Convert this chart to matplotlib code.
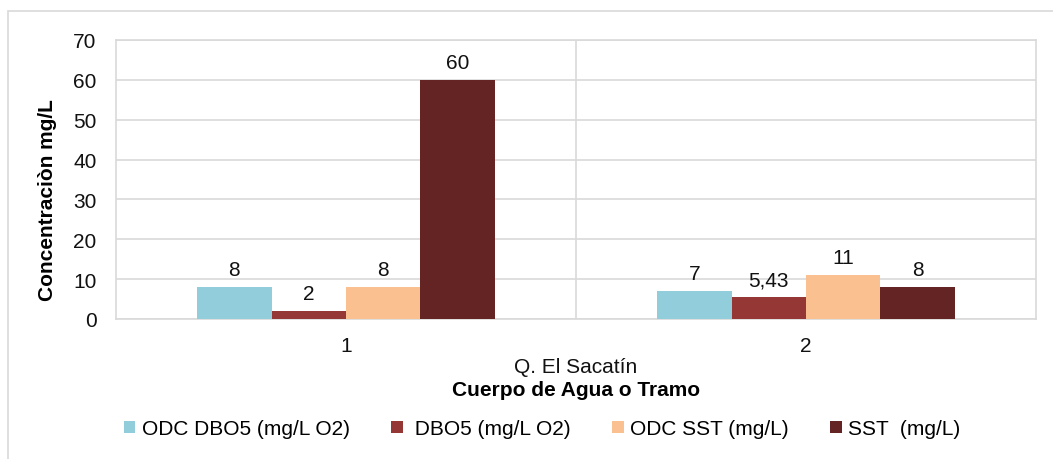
import matplotlib
matplotlib.use("Agg")
import matplotlib.pyplot as plt
import numpy as np
from matplotlib.patches import Rectangle

plt.rcParams['font.family'] = ['Liberation Sans', 'DejaVu Sans']

categories = ['1', '2']
series_names = ['ODC DBO5 (mg/L O2)', ' DBO5 (mg/L O2)', 'ODC SST (mg/L)', 'SST  (mg/L)']
odc_dbo5 = [8, 7]
dbo5 = [2, 5.43]
odc_sst = [8, 11]
sst = [60, 8]
series_values = [odc_dbo5, dbo5, odc_sst, sst]
colors = ['#92CDDC', '#953735', '#FAC090', '#632423']
y_ticks = [0, 10, 20, 30, 40, 50, 60, 70]

FS = 15


def fmt(v):
    return '{:g}'.format(v).replace('.', ',')


fig = plt.figure(figsize=(10.53, 4.6), dpi=100)
ax = fig.add_axes([116 / 1053, 1 - 320 / 460, 920 / 1053, 279 / 460])

# outer chart frame (only top/left visible in the reference)
fig.add_artist(Rectangle((8 / 1053, -0.1), 1.2, 1 - 12 / 460 + 0.1,
                         transform=fig.transFigure, fill=False,
                         edgecolor='#D9D9D9', linewidth=1.2))

x = np.arange(len(categories))
width = 0.1617
for i, (vals, name, col) in enumerate(zip(series_values, series_names, colors)):
    bars = ax.bar(x + (i - 1.5) * width, vals, width, color=col, label=name, zorder=3)
    for b, v in zip(bars, vals):
        ax.annotate(fmt(v), (b.get_x() + b.get_width() / 2, b.get_height()),
                    xytext=(0, 6), textcoords='offset points',
                    ha='center', va='bottom', fontsize=FS, color='#111111')

ax.set_xlim(-0.5, 1.5)
ax.set_ylim(0, 70)
ax.set_yticks(y_ticks)
ax.set_xticks(x)
ax.set_xticklabels(categories)
ax.set_xticks([0.5], minor=True)
ax.grid(axis='y', color='#D9D9D9', linewidth=1.2, zorder=0)
ax.grid(axis='x', which='minor', color='#D9D9D9', linewidth=1.2, zorder=0)
ax.tick_params(axis='both', which='both', length=0, labelsize=FS, colors='#111111')
ax.tick_params(axis='x', pad=12)
ax.tick_params(axis='y', pad=14)
for s in ax.spines.values():
    s.set_color('#D9D9D9')
    s.set_linewidth(1.2)

ax.set_ylabel('Concentraciòn mg/L', fontsize=FS, fontweight='bold')
ax.yaxis.set_label_coords(-0.064, 0.43)
ax.text(0.5, -0.172, 'Q. El Sacatín', transform=ax.transAxes,
        ha='center', va='center', fontsize=FS, color='#111111')
ax.text(0.5, -0.254, 'Cuerpo de Agua o Tramo', transform=ax.transAxes,
        ha='center', va='center', fontsize=FS, fontweight='bold')

fig.legend(loc='center', bbox_to_anchor=(542 / 1053, 1 - 430 / 460), ncol=4,
           frameon=False, fontsize=FS, handlelength=0.55, handleheight=0.55,
           handletextpad=0.3, columnspacing=2.0)

fig.savefig('out.png', dpi=100)
